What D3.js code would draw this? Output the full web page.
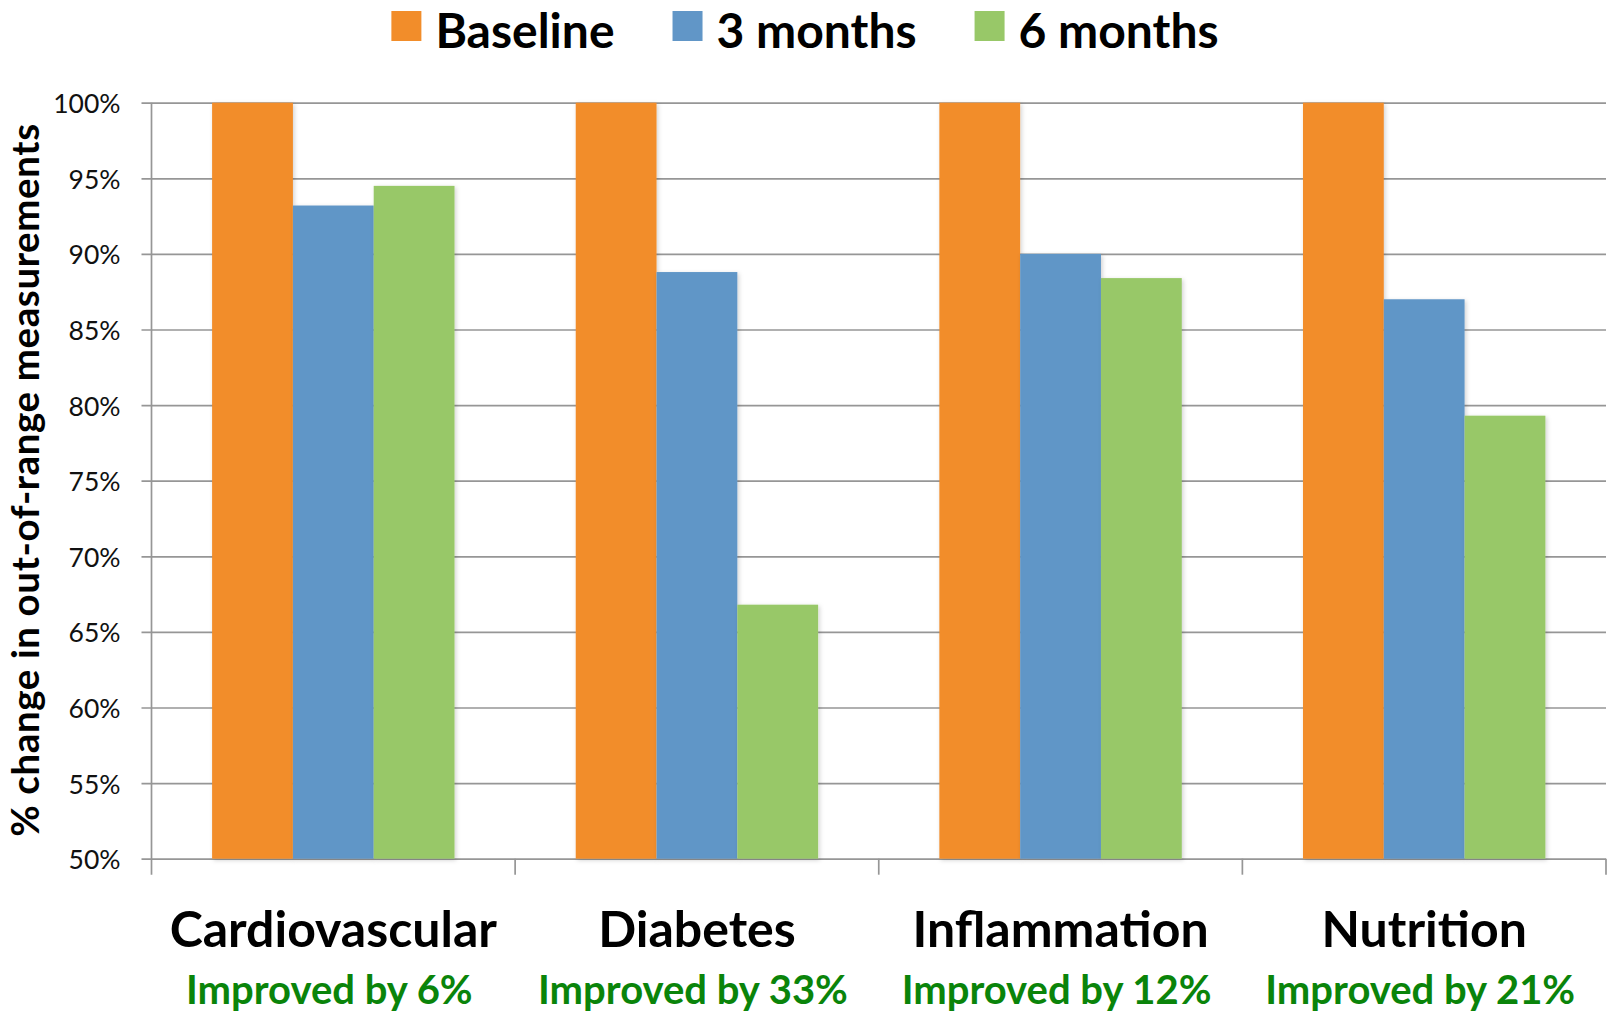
<!DOCTYPE html>
<html>
<head>
<meta charset="utf-8">
<script src="https://cdn.jsdelivr.net/npm/d3@7"></script>
<style>
  html, body { margin: 0; padding: 0; background: #fff; }
  svg { display: block; font-family: Lato, "Open Sans", sans-serif; }
</style>
</head>
<body>
<svg id="chart" width="1614" height="1017"></svg>
<script>
// Categories and series
const categories = ["Cardiovascular", "Diabetes", "Inflammation", "Nutrition"];
const seriesNames = ["Baseline", "3 months", "6 months"];
const baseline = [100, 100, 100, 100];
const threeMonths = [93.2, 88.8, 90.0, 87.0];
const sixMonths = [94.5, 66.8, 88.4, 79.3];
const yTicks = [50, 55, 60, 65, 70, 75, 80, 85, 90, 95, 100];
const colors = ["#F28D2A", "#6196C7", "#98C868"];

const seriesValues = [baseline, threeMonths, sixMonths];
const rows = categories.map((c, i) => ({
  category: c,
  values: seriesNames.map((s, j) => ({ series: s, value: seriesValues[j][i] })),
  improvement: Math.round(100 - sixMonths[i])
}));

const svg = d3.select("#chart");
const plotLeft = 151.5, plotRight = 1606, plotTop = 102.7, plotBottom = 858.7;

const y = d3.scaleLinear().domain([50, 100]).range([plotBottom, plotTop]);
const x0 = d3.scaleBand().domain(categories).range([plotLeft, plotRight]).padding(0);
const bw = x0.bandwidth();
const x1 = d3.scaleBand().domain(seriesNames).range([bw / 6, bw * 5 / 6]).padding(0);
const color = d3.scaleOrdinal().domain(seriesNames).range(colors);

// soft shadow under bars
const defs = svg.append("defs");
const f = defs.append("filter").attr("id", "barShadow")
  .attr("x", "-10%").attr("y", "-5%").attr("width", "120%").attr("height", "110%");
f.append("feDropShadow").attr("dx", 1.5).attr("dy", 1.5).attr("stdDeviation", 2)
  .attr("flood-color", "#000").attr("flood-opacity", 0.18);

// horizontal gridlines with outer ticks
const yAxis = d3.axisLeft(y).tickValues(yTicks)
  .tickSize(-(plotRight - plotLeft)).tickSizeOuter(0)
  .tickFormat(d => d + "%").tickPadding(31);
const gy = svg.append("g").attr("transform", `translate(${plotLeft},0)`).call(yAxis);
gy.select(".domain").remove();
gy.selectAll(".tick line").attr("stroke", "#969696").attr("stroke-width", 1.7)
  .attr("x1", -10);
gy.selectAll(".tick text").attr("font-size", 26.5).attr("fill", "#111")
  .attr("font-family", "Lato, sans-serif").attr("dy", "0.38em");

// vertical axis line
svg.append("line").attr("x1", plotLeft).attr("x2", plotLeft)
  .attr("y1", plotTop).attr("y2", plotBottom + 16)
  .attr("stroke", "#969696").attr("stroke-width", 1.7);

// category boundary ticks below the baseline
const bounds = categories.map(c => x0(c)).concat([plotRight]);
svg.append("g").selectAll("line").data(bounds.slice(1)).join("line")
  .attr("x1", d => d).attr("x2", d => d)
  .attr("y1", plotBottom).attr("y2", plotBottom + 16)
  .attr("stroke", "#969696").attr("stroke-width", 1.7);

// bars
const groups = svg.append("g").selectAll("g").data(rows).join("g")
  .attr("transform", d => `translate(${x0(d.category)},0)`);
groups.selectAll("rect").data(d => d.values).join("rect")
  .attr("x", d => x1(d.series))
  .attr("width", x1.bandwidth())
  .attr("y", d => y(d.value))
  .attr("height", d => y(50) - y(d.value))
  .attr("fill", d => color(d.series))
  .attr("filter", "url(#barShadow)");

// category labels and improvement notes
const labels = svg.append("g").selectAll("g").data(rows).join("g")
  .attr("transform", d => `translate(${x0(d.category) + bw / 2},0)`);
labels.append("text").attr("y", 947).attr("text-anchor", "middle")
  .attr("font-size", 50).attr("font-weight", 700).attr("fill", "#000")
  .text(d => d.category);
labels.append("text").attr("y", 1004).attr("x", -4).attr("text-anchor", "middle")
  .attr("font-size", 40).attr("font-weight", 700).attr("fill", "#0A840A")
  .text(d => `Improved by ${d.improvement}%`);

// y axis title
svg.append("text")
  .attr("transform", `translate(38.5,${(121 + 839) / 2}) rotate(-90)`)
  .attr("text-anchor", "middle")
  .attr("font-size", 38.5).attr("font-weight", 700).attr("fill", "#000")
  .attr("letter-spacing", 0.6)
  .text("% change in out-of-range measurements");

// legend
const legend = svg.append("g");
const items = legend.selectAll("g").data(seriesNames).join("g");
items.append("rect").attr("width", 30).attr("height", 30).attr("y", 11)
  .attr("fill", d => color(d));
items.append("text").attr("x", 44).attr("y", 48)
  .attr("font-size", 48).attr("font-weight", 700).attr("fill", "#000")
  .text(d => d);
let cursor = 0;
items.each(function () {
  const g = d3.select(this);
  g.attr("transform", `translate(${cursor},0)`);
  const w = 44 + g.select("text").node().getComputedTextLength();
  cursor += w + 58;
});
const totalW = cursor - 58;
legend.attr("transform", `translate(${805 - totalW / 2},0)`);
</script>
</body>
</html>
